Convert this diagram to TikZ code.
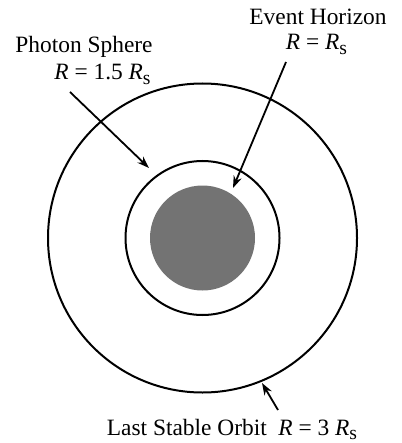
\documentclass[tikz,border=0pt]{standalone}
\usepackage{fontspec}
\setmainfont{Liberation Serif}
\usetikzlibrary{arrows.meta}
\newcommand{\Rs}{\textit{R}\raisebox{-0.45ex}{\fontsize{9.8}{10}\selectfont s}}
\begin{document}
\begin{tikzpicture}[x=0.5pt,y=-0.5pt,font=\fontsize{11.7}{13}\selectfont,
        lbl/.style={anchor=base,inner sep=0pt},
        ring/.style={line width=1pt},
        pointer/.style={-{Stealth[length=6pt,width=4.2pt]},line width=0.9pt}]
        \useasboundingbox (0,0) rectangle (401,443);
        % the three radii
        \fill[black!55] (202.5,238) circle (52.5);
        \draw[ring] (202.5,238) circle (77);
        \draw[ring] (202.5,238) circle (154.5);
        % labels
        \node[lbl] (ps) at (84,53) {Photon Sphere};
        \node[lbl] (psr) at (102.5,80) {\textit{R} = 1.5 \Rs};
        \node[lbl] (eh) at (318,25) {Event Horizon};
        \node[lbl] (ehr) at (316.5,50) {\textit{R} = \Rs};
        \node[lbl] (lso) at (232,435) {Last Stable Orbit\ \ \textit{R} = 3 \Rs};
        % arrows
        \coordinate (psa) at (70,92);   \coordinate (psb) at (149,168);
        \coordinate (eha) at (286,62);  \coordinate (ehb) at (233,188);
        \coordinate (lsa) at (278,410); \coordinate (lsb) at (262,383);
        \draw[pointer] (psa) -- (psb);
        \draw[pointer] (eha) -- (ehb);
        \draw[pointer] (lsa) -- (lsb);
\end{tikzpicture}
\end{document}
